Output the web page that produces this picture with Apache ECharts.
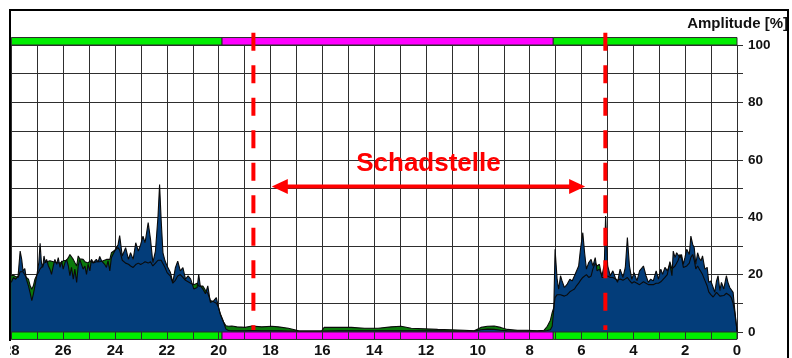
<!DOCTYPE html>
<html>
<head>
<meta charset="utf-8">
<script src="https://cdn.jsdelivr.net/npm/echarts@6/dist/echarts.min.js"></script>
<style>
  html, body { margin: 0; padding: 0; background: #fff; }
  #chart { width: 792px; height: 358px; }
</style>
</head>
<body>
<div id="chart"></div>
<script>
// Position along the pipe section (axis runs from 28 on the left to 0 on the right)
const distance = [
  28.00,27.92,27.83,27.74,27.66,27.60,27.55,27.48,27.42,27.34,27.28,27.21,27.15,27.09,27.02,26.94,26.89,26.84,26.79,26.74,
  26.69,26.64,26.57,26.51,26.45,26.38,26.32,26.25,26.19,26.12,26.06,26.00,25.93,25.87,25.80,25.74,25.68,25.61,25.55,25.48,
  25.42,25.36,25.29,25.23,25.16,25.10,25.04,24.97,24.91,24.84,24.78,24.72,24.65,24.59,24.52,24.46,24.40,24.33,24.27,24.20,
  24.14,24.08,24.01,23.95,23.88,23.82,
  23.72,23.59,23.48,23.40,23.30,23.20,23.10,23.01,22.92,22.84,22.72,22.63,22.54,22.44,22.34,22.28,22.22,22.15,22.07,21.99,
  21.86,21.77,21.67,21.58,21.48,21.38,21.28,21.18,21.08,20.96,20.83,20.77,20.71,20.61,20.51,20.42,20.32,20.19,20.09,20.02,
  19.94,19.81,19.72,19.62,
  19.49,19.30,18.98,18.72,18.34,17.95,17.70,17.31,16.99,16.90,16.03,15.93,15.39,14.88,14.37,13.85,13.34,12.96,12.57,12.06,
  11.55,11.04,10.52,10.14,9.88,9.63,9.37,9.12,8.86,8.47,8.09,7.71,7.45,7.32,7.20,7.13,7.07,
  7.02,6.94,6.88,6.81,6.75,6.66,6.55,6.45,6.36,6.27,6.20,6.11,6.04,5.95,5.88,5.81,5.72,5.63,5.56,5.47,
  5.40,5.31,5.21,5.12,5.07,4.99,4.89,4.79,4.70,4.61,4.51,4.40,4.31,4.23,4.15,4.06,3.97,3.86,3.76,
  3.61,3.51,3.42,3.33,3.23,3.12,3.03,2.94,2.87,2.78,2.69,2.59,2.51,2.46,2.39,2.33,2.27,2.20,2.14,2.07,
  2.01,1.94,1.84,1.78,1.71,1.65,1.59,1.52,1.46,1.39,1.33,1.24,1.15,1.09,1.01,0.92,0.86,0.79,0.73,0.66,
  0.60,0.51,0.41,0.35,0.28,0.22,0.15,0.09,0.02,0.00
];

// Amplitude of the green trace [%]
const greenAmp = [
  19.6,19.8,19.3,19.0,21.0,21.5,21.0,20.5,19.0,18.4,16.3,14.9,16.1,18.4,19.8,21.0,22.0,22.5,23.0,24.0,
  24.0,24.5,24.5,24.8,25.3,24.5,24.0,24.2,24.5,24.0,24.2,24.8,24.5,25.0,25.9,27.0,27.6,25.3,24.2,23.0,
  26.5,25.5,25.9,25.3,24.5,24.5,24.0,24.8,24.5,24.0,24.2,24.5,24.0,24.5,24.5,24.8,24.8,25.3,25.0,25.3,
  27.6,28.0,28.5,29.0,29.4,28.5,
  25.0,24.0,23.6,23.0,22.5,23.5,24.0,23.5,24.0,24.5,24.0,24.5,23.0,24.0,25.0,25.5,25.0,24.8,22.5,20.7,
  19.5,17.0,18.0,19.5,20.0,19.0,18.0,17.5,17.0,16.5,17.0,16.0,15.5,16.0,14.5,13.5,11.0,10.5,10.0,9.0,
  6.5,3.5,2.2,2.0,
  2.1,1.8,1.6,2.1,1.8,2.0,1.8,1.3,0.6,0.3,0.3,1.6,1.6,1.6,1.3,1.3,1.8,2.0,1.3,1.1,
  0.9,0.8,0.6,0.4,1.6,2.0,2.1,1.6,0.9,0.6,0.6,0.4,0.6,2.0,4.1,6.8,8.5,
  12.0,13.0,13.5,13.0,12.5,12.5,13.0,14.0,14.5,15.0,16.0,17.0,18.0,19.0,19.5,20.0,19.0,19.5,22.0,24.0,
  23.0,23.6,19.0,19.0,19.5,19.5,19.0,19.0,18.5,18.0,18.5,18.0,18.5,19.0,18.0,17.0,17.5,17.0,16.5,
  17.5,17.0,16.5,16.5,16.5,17.0,17.0,17.5,18.0,19.0,20.0,24.5,22.0,22.5,23.0,23.0,25.0,27.0,26.0,22.5,
  22.0,23.0,24.0,26.0,27.0,25.0,22.0,23.0,22.0,21.0,20.0,18.0,16.0,14.0,13.0,12.2,12.5,13.8,13.5,12.5,
  12.5,12.7,13.5,13.0,12.7,12.0,10.0,7.0,2.0,0.0
];

// Amplitude of the blue trace [%]
const blueAmp = [
  17.3,19.0,18.4,19.6,28.2,25.3,21.3,22.1,18.4,16.1,13.8,10.9,13.2,16.1,19.6,24.2,30.9,24.2,22.5,26.5,
  24.2,25.3,23.0,21.9,20.1,23.0,25.3,23.6,25.9,22.5,24.8,21.9,24.2,25.3,23.0,19.6,22.5,18.4,21.9,17.3,
  23.0,25.3,24.8,21.9,23.0,20.1,23.6,21.3,25.3,24.2,24.8,25.3,24.4,26.3,24.8,25.3,23.6,22.5,24.8,21.3,
  25.9,27.0,28.2,28.8,30.5,33.6,
  26.5,29.4,25.3,27.6,25.3,31.1,28.2,30.5,33.4,31.1,38.1,32.3,24.2,28.2,40.4,51.4,39.2,27.6,24.8,23.0,
  20.7,17.3,22.4,24.7,21.3,22.4,18.4,19.6,18.4,15.0,15.5,20.1,16.1,15.0,13.3,16.1,10.3,10.9,12.0,9.1,
  6.2,3.4,1.0,0.5,
  0.4,0.4,0.4,0.5,0.4,0.4,0.4,0.3,0.3,0.3,0.3,0.3,0.4,0.4,0.4,0.4,0.4,0.4,0.4,0.4,
  0.4,0.3,0.3,0.3,0.8,1.0,0.9,0.6,0.4,0.3,0.3,0.3,0.3,0.5,0.8,2.0,7.9,
  28.8,18.4,14.9,19.6,17.8,15.5,16.7,18.4,17.8,19.6,20.1,23.0,28.8,34.6,27.6,21.9,24.2,25.3,23.0,25.9,
  21.3,21.9,19.6,23.6,40.4,23.0,19.6,21.3,19.0,17.3,21.9,19.0,22.5,32.9,23.0,18.4,20.7,17.8,21.3,
  23.0,19.6,17.3,18.4,17.8,21.3,18.4,21.9,20.1,22.5,21.3,23.6,19.6,28.2,25.9,27.6,28.2,25.9,27.0,23.6,
  25.9,28.8,27.0,33.4,30.5,29.4,23.6,27.6,25.9,24.8,26.5,21.9,22.5,17.3,17.8,15.5,13.8,17.8,19.6,14.4,
  17.3,15.0,19.6,17.3,15.5,16.1,13.8,8.0,2.2,0.0
];

// Tick labels
const posLabels = [28, 26, 24, 22, 20, 18, 16, 14, 12, 10, 8, 6, 4, 2, 0];
const ampLabels = [0, 20, 40, 60, 80, 100];

// Status bands along the section (top and bottom strips)
const bandFrom  = [28, 19.87, 7.09];
const bandTo    = [19.87, 7.09, 0];
const bandState = ['ok', 'defect', 'ok'];
const bandColor = { ok: '#00ee00', defect: '#ff00ff' };

// Damage zone boundaries and annotation
const boundaryPos = [18.66, 5.08];
const spanFrom = 17.95, spanTo = 5.86, spanLevel = 50.7;
const spanLabel = 'Schadstelle', spanLabelLevel = 58.5;

const FONT = '"Liberation Sans", Arial, Helvetica, sans-serif';
const pairs = vals => distance.map((d, i) => [d, vals[i]]);

const chart = echarts.init(document.getElementById('chart'), null, { renderer: 'canvas' });

chart.setOption({
  animation: false,
  backgroundColor: '#ffffff',
  title: {
    text: 'Amplitude [%]',
    right: 4, top: 16, padding: 0,
    textStyle: { fontFamily: FONT, fontSize: 15, fontWeight: 'bold', color: '#111' }
  },
  grid: { left: 9, right: 55, top: 45, bottom: 25, containLabel: false },
  xAxis: [
    {
      type: 'value', min: 0, max: 28, interval: 1, inverse: true, position: 'bottom',
      axisLine: { show: false },
      axisTick: { show: false },
      axisLabel: {
        show: true, margin: 11, showMinLabel: true, showMaxLabel: true,
        formatter: v => posLabels.includes(v) ? String(v) : '',
        fontFamily: FONT, fontSize: 15, fontWeight: 'bold', color: '#111'
      },
      splitLine: { show: true, lineStyle: { color: '#2e2e2e', width: 1 } }
    },
    {
      type: 'value', min: 0, max: 28, interval: 1, inverse: true, position: 'bottom', z: 5,
      axisLine: { show: false },
      axisTick: { show: true, length: 7, lineStyle: { color: '#2e2e2e', width: 1 } },
      axisLabel: { show: false },
      splitLine: { show: false }
    }
  ],
  yAxis: {
    type: 'value', min: 0, max: 100, interval: 10, position: 'right',
    axisLine: { show: false },
    axisTick: { show: true, length: 6, lineStyle: { color: '#2e2e2e', width: 1 } },
    axisLabel: {
      margin: 11, showMinLabel: true, showMaxLabel: true,
      formatter: v => ampLabels.includes(v) ? String(v) : '',
      fontFamily: FONT, fontSize: 13.5, fontWeight: 'bold', color: '#111'
    },
    splitLine: { show: true, lineStyle: { color: '#2e2e2e', width: 1 } }
  },
  series: [
    // filled areas first, outlines on top of both
    {
      type: 'line', data: pairs(greenAmp), symbol: 'none', silent: true, z: 2,
      lineStyle: { opacity: 0 },
      areaStyle: { color: '#0b7a0b', opacity: 1 }
    },
    {
      type: 'line', data: pairs(blueAmp), symbol: 'none', silent: true, z: 2,
      lineStyle: { opacity: 0 },
      areaStyle: { color: '#033d7a', opacity: 1 }
    },
    {
      type: 'line', data: pairs(greenAmp), symbol: 'none', silent: true, z: 3,
      lineStyle: { color: '#0a0a0a', width: 1.1 }
    },
    {
      type: 'line', data: pairs(blueAmp), symbol: 'none', silent: true, z: 3,
      lineStyle: { color: '#0a0a0a', width: 1.1 }
    },
    // status strips above 100 % and below 0 %
    {
      type: 'custom', silent: true, z: 4, clip: false,
      data: bandFrom.map((f, i) => [f, bandTo[i], i]),
      renderItem: (params, api) => {
        const state = bandState[api.value(2)];
        const a = api.coord([api.value(0), 102.6]);
        const b = api.coord([api.value(1), 100]);
        const c = api.coord([api.value(0), 0]);
        const d = api.coord([api.value(1), -2.6]);
        const x = Math.min(a[0], b[0]), w = Math.abs(b[0] - a[0]);
        const style = { fill: bandColor[state], stroke: '#2a2a2a', lineWidth: 1 };
        return {
          type: 'group',
          children: [
            { type: 'rect', shape: { x: x, y: a[1], width: w, height: b[1] - a[1] }, style: style },
            { type: 'rect', shape: { x: x, y: c[1], width: w, height: d[1] - c[1] }, style: style }
          ]
        };
      }
    },
    // damage zone boundaries
    {
      type: 'custom', silent: true, z: 6, clip: false,
      data: boundaryPos.map(p => [p, 50]),
      renderItem: (params, api) => {
        const top = api.coord([api.value(0), 104.3]);
        const bot = api.coord([api.value(0), 0.7]);
        return {
          type: 'line',
          shape: { x1: top[0], y1: top[1], x2: bot[0], y2: bot[1] },
          style: { stroke: '#ff0000', lineWidth: 4, lineDash: [18, 14.5] }
        };
      }
    },
    // double arrow with label
    {
      type: 'custom', silent: true, z: 6, clip: false,
      data: [[spanFrom, spanTo, spanLevel]],
      renderItem: (params, api) => {
        const a = api.coord([api.value(0), api.value(2)]);
        const b = api.coord([api.value(1), api.value(2)]);
        const lx = Math.min(a[0], b[0]), rx = Math.max(a[0], b[0]), y = a[1];
        const head = 16, half = 7.5;
        const mid = api.coord([(api.value(0) + api.value(1)) / 2, spanLabelLevel]);
        return {
          type: 'group',
          children: [
            { type: 'line', shape: { x1: lx + head - 2, y1: y, x2: rx - head + 2, y2: y },
              style: { stroke: '#ff0000', lineWidth: 4 } },
            { type: 'polygon', shape: { points: [[lx, y], [lx + head, y - half], [lx + head, y + half]] },
              style: { fill: '#ff0000' } },
            { type: 'polygon', shape: { points: [[rx, y], [rx - head, y - half], [rx - head, y + half]] },
              style: { fill: '#ff0000' } },
            { type: 'text', x: mid[0], y: mid[1],
              style: { text: spanLabel, fill: '#ff0000', font: 'bold 26px ' + FONT,
                       align: 'center', verticalAlign: 'middle' } }
          ]
        };
      }
    }
  ],
  graphic: [
    { type: 'rect', z: 100, silent: true, shape: { x: 0, y: 0, width: 10, height: 358 }, style: { fill: '#ffffff' } },
    { type: 'line', z: 101, silent: true, shape: { x1: 9, y1: 10, x2: 789, y2: 10 }, style: { stroke: '#000', lineWidth: 2 } },
    { type: 'line', z: 101, silent: true, shape: { x1: 10, y1: 10, x2: 10, y2: 341 }, style: { stroke: '#000', lineWidth: 2 } },
    { type: 'line', z: 101, silent: true, shape: { x1: 788, y1: 10, x2: 788, y2: 358 }, style: { stroke: '#000', lineWidth: 2 } }
  ]
});
</script>
</body>
</html>
